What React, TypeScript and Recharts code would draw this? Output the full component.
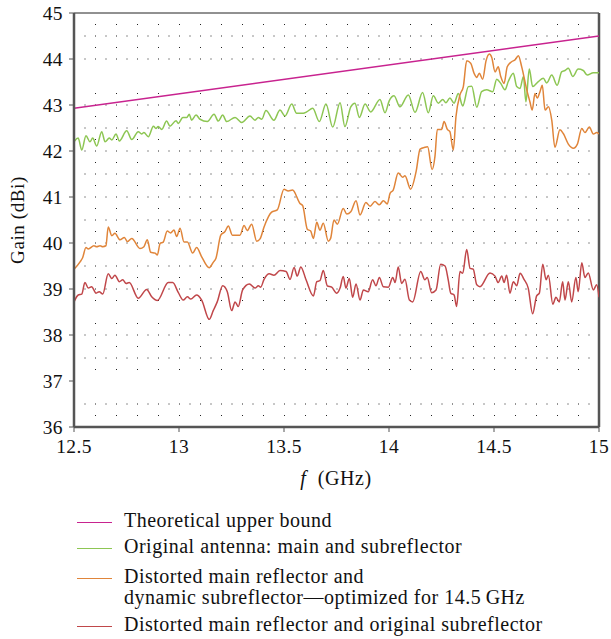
import { CartesianGrid, Line, LineChart, ReferenceLine, XAxis, YAxis } from "recharts";

// [frequency GHz, gain dBi]
const upperBound: [number, number][] = [
  [12.5, 42.93],
  [15, 44.5],
];

const originalAntenna: [number, number][] = [
  [12.5, 42.2], [12.52, 42.28], [12.537, 42.02], [12.557, 42.33], [12.576, 42.2], [12.589, 42.28],
  [12.608, 42.11], [12.632, 42.42], [12.648, 42.2], [12.668, 42.28], [12.68, 42.24], [12.7, 42.37],
  [12.716, 42.22], [12.751, 42.44], [12.775, 42.25], [12.806, 42.42], [12.822, 42.37], [12.833, 42.4],
  [12.854, 42.31], [12.878, 42.54], [12.89, 42.49], [12.901, 42.53], [12.918, 42.47], [12.941, 42.65],
  [12.957, 42.54], [12.986, 42.66], [12.997, 42.6], [13.018, 42.73], [13.037, 42.73], [13.049, 42.8],
  [13.06, 42.67], [13.081, 42.78], [13.1, 42.69], [13.135, 42.64], [13.167, 42.8], [13.187, 42.65],
  [13.208, 42.78], [13.227, 42.64], [13.267, 42.73], [13.299, 42.62], [13.338, 42.76], [13.362, 42.67],
  [13.378, 42.73], [13.394, 42.69], [13.414, 42.88], [13.452, 42.67], [13.481, 42.89], [13.505, 42.76],
  [13.537, 43.02], [13.56, 42.82], [13.592, 42.82], [13.608, 42.85], [13.637, 42.93], [13.668, 42.64],
  [13.7, 43.02], [13.732, 42.52], [13.767, 43.05], [13.79, 42.53], [13.818, 42.96], [13.838, 43.04],
  [13.859, 42.73], [13.886, 43.02], [13.913, 42.85], [13.957, 43.12], [13.981, 42.83], [14.001, 43.09],
  [14.024, 43.2], [14.052, 42.96], [14.092, 43.22], [14.124, 42.84], [14.16, 43.27], [14.187, 42.83],
  [14.211, 43.2], [14.235, 43.04], [14.256, 43.12], [14.271, 43.05], [14.29, 43.15], [14.31, 43.04],
  [14.33, 43.25], [14.351, 42.98], [14.378, 43.4], [14.394, 43.41], [14.418, 42.95], [14.441, 43.29],
  [14.465, 43.33], [14.494, 43.29], [14.513, 43.56], [14.532, 43.47], [14.552, 43.33], [14.568, 43.51],
  [14.592, 43.69], [14.608, 43.4], [14.624, 43.36], [14.64, 43.62], [14.652, 43.07], [14.668, 43.78],
  [14.684, 43.4], [14.711, 43.51], [14.735, 43.58], [14.751, 43.48], [14.775, 43.65], [14.801, 43.43],
  [14.822, 43.72], [14.838, 43.75], [14.854, 43.8], [14.875, 43.62], [14.901, 43.78], [14.925, 43.75],
  [14.944, 43.65], [14.973, 43.7], [15, 43.7],
];

const dynamicSub: [number, number][] = [
  [12.5, 39.43], [12.529, 39.59], [12.541, 39.68], [12.557, 39.9], [12.568, 39.87], [12.595, 39.94],
  [12.608, 39.92], [12.624, 39.94], [12.637, 39.92], [12.652, 39.94], [12.663, 40.35], [12.68, 40.16],
  [12.695, 40.21], [12.719, 40.07], [12.74, 40.12], [12.754, 40.03], [12.775, 40.1], [12.814, 39.88],
  [12.833, 39.92], [12.849, 40.07], [12.865, 39.8], [12.886, 39.78], [12.897, 39.74], [12.91, 39.99],
  [12.925, 40.02], [12.944, 40.26], [12.96, 40.22], [12.976, 40.28], [12.989, 40.14], [13.005, 40.32],
  [13.024, 40.02], [13.04, 40.02], [13.065, 39.78], [13.084, 39.9], [13.108, 39.7], [13.144, 39.46],
  [13.163, 39.58], [13.176, 39.67], [13.199, 40.17], [13.219, 40.25], [13.235, 40.37], [13.254, 40.17],
  [13.29, 40.17], [13.31, 40.38], [13.325, 40.27], [13.346, 40.41], [13.37, 40.04], [13.386, 40.09],
  [13.405, 40.35], [13.441, 40.67], [13.468, 40.72], [13.5, 41.17], [13.52, 41.13], [13.541, 41.15],
  [13.576, 40.86], [13.589, 40.81], [13.611, 40.3], [13.627, 40.26], [13.64, 40.1], [13.656, 40.45],
  [13.671, 40.28], [13.687, 40.43], [13.711, 40.04], [13.722, 40.1], [13.738, 40.5], [13.754, 40.41],
  [13.782, 40.75], [13.799, 40.63], [13.818, 40.68], [13.843, 40.92], [13.862, 40.61], [13.89, 40.88],
  [13.91, 40.8], [13.933, 40.9], [13.954, 40.83], [13.973, 40.92], [13.992, 40.85], [14.005, 41.08],
  [14.02, 41.15], [14.044, 41.52], [14.065, 41.43], [14.076, 41.46], [14.103, 41.17], [14.129, 41.55],
  [14.148, 42.04], [14.171, 42.08], [14.184, 42.09], [14.205, 41.6], [14.219, 41.89], [14.23, 42.47],
  [14.251, 42.47], [14.262, 42.64], [14.278, 42.47], [14.29, 42.42], [14.306, 42.02], [14.319, 42.75],
  [14.338, 43.22], [14.354, 43.4], [14.37, 43.96], [14.389, 43.91], [14.405, 43.69], [14.418, 43.6],
  [14.43, 43.69], [14.446, 43.56], [14.462, 43.96], [14.478, 44.11], [14.489, 44.04], [14.505, 43.72],
  [14.52, 43.83], [14.532, 43.62], [14.548, 43.47], [14.563, 43.83], [14.584, 43.94], [14.6, 43.98],
  [14.616, 44.07], [14.632, 43.83], [14.656, 43.33], [14.671, 43.07], [14.682, 42.89], [14.695, 43.25],
  [14.706, 43.15], [14.719, 43.29], [14.73, 43.43], [14.743, 42.89], [14.759, 42.96], [14.775, 42.67],
  [14.79, 42.08], [14.814, 42.46], [14.83, 42.38], [14.854, 42.15], [14.878, 42.06], [14.897, 42.15],
  [14.918, 42.49], [14.933, 42.4], [14.954, 42.52], [14.973, 42.37], [14.989, 42.4], [15, 42.37],
];

const originalSub: [number, number][] = [
  [12.5, 38.72], [12.52, 38.87], [12.537, 38.89], [12.552, 39.14], [12.568, 39.02], [12.584, 39.05],
  [12.605, 38.91], [12.62, 38.94], [12.637, 38.89], [12.663, 39.33], [12.68, 39.23], [12.695, 39.3],
  [12.716, 39.16], [12.732, 39.2], [12.748, 39.12], [12.763, 39.14], [12.806, 38.8], [12.846, 38.99],
  [12.87, 38.83], [12.897, 38.75], [12.949, 39.14], [12.97, 39.14], [12.997, 38.92], [13.02, 38.76],
  [13.04, 38.83], [13.056, 38.78], [13.084, 38.87], [13.108, 38.76], [13.144, 38.34], [13.163, 38.53],
  [13.182, 38.72], [13.208, 39.07], [13.23, 38.94], [13.251, 38.53], [13.267, 38.72], [13.282, 38.62],
  [13.303, 38.98], [13.335, 39.11], [13.362, 39.02], [13.378, 39.07], [13.389, 39.04], [13.405, 39.21],
  [13.43, 39.33], [13.452, 39.3], [13.481, 39.4], [13.51, 39.38], [13.529, 39.21], [13.548, 39.47],
  [13.563, 39.28], [13.58, 39.48], [13.605, 39.2], [13.64, 38.85], [13.656, 39.16], [13.671, 39.18],
  [13.687, 39.4], [13.706, 39.07], [13.727, 39.04], [13.751, 38.91], [13.767, 39.02], [13.782, 39.27],
  [13.795, 39.02], [13.811, 39.23], [13.827, 38.82], [13.843, 39.11], [13.862, 38.76], [13.878, 38.98],
  [13.901, 38.94], [13.922, 39.2], [13.938, 39.07], [13.954, 39.25], [13.973, 39.05], [13.997, 39.04],
  [14.018, 39.25], [14.029, 39.14], [14.044, 39.48], [14.06, 39.12], [14.076, 39.21], [14.097, 38.76],
  [14.113, 38.72], [14.151, 39.38], [14.171, 39.2], [14.182, 39.25], [14.203, 38.92], [14.224, 38.98],
  [14.246, 39.54], [14.267, 39.5], [14.282, 39.2], [14.294, 38.91], [14.31, 38.87], [14.322, 38.62],
  [14.338, 39.38], [14.351, 39.34], [14.37, 39.86], [14.386, 39.45], [14.401, 39.43], [14.418, 39.09],
  [14.433, 39.05], [14.481, 39.35], [14.505, 39.28], [14.52, 39.14], [14.537, 39.28], [14.548, 39.14],
  [14.56, 39.3], [14.576, 38.91], [14.592, 39.16], [14.608, 39.07], [14.624, 39.34], [14.643, 39.21],
  [14.663, 39.02], [14.684, 38.46], [14.703, 38.85], [14.716, 38.91], [14.732, 39.54], [14.748, 39.2],
  [14.759, 39.3], [14.78, 38.67], [14.795, 38.82], [14.811, 38.72], [14.827, 39.16], [14.838, 38.76],
  [14.854, 39.16], [14.87, 38.72], [14.89, 39.25], [14.901, 38.94], [14.918, 39.57], [14.933, 39.25],
  [14.949, 39.35], [14.973, 38.98], [14.989, 39.09], [15, 38.82],
];

const freqTicks = [12.5, 13, 13.5, 14, 14.5, 15];
const gainTicks = [36, 37, 38, 39, 40, 41, 42, 43, 44, 45];
const halfRows = [36.5, 37, 37.5, 38, 38.5, 39, 39.5, 40, 40.5, 41, 41.5, 42, 42.5, 43, 43.5, 44, 44.5];
const quarterRows = [36.25, 36.75, 37.25, 37.75, 38.25, 38.75, 39.25, 39.75, 40.25, 40.75, 41.25, 41.75, 42.25, 42.75, 43.25, 43.75, 44.25, 44.75];

const series = [
  { name: "Theoretical upper bound", color: "#c8238f", points: upperBound },
  { name: "Original antenna: main and subreflector", color: "#8dc653", points: originalAntenna },
  { name: "Distorted main reflector and\ndynamic subreflector\u2014optimized for 14.5\u2009GHz", color: "#e0853a", points: dynamicSub },
  { name: "Distorted main reflector and original subreflector", color: "#c0474a", points: originalSub },
];

const toRows = (pts: [number, number][]) => pts.map(([f, gain]) => ({ f, gain }));

const FONT = '"Liberation Serif", "DejaVu Serif", serif';
const tickStyle = { fill: "#111", fontSize: 19.5, fontFamily: FONT, letterSpacing: 0.4 };
const legendTops = [522, 548, 578, 626];

export default function App() {
  return (
    <div style={{ position: "relative", width: 611, height: 639, fontFamily: FONT, color: "#111", background: "#fff" }}>
      <style>{"body{margin:0}"}</style>
      <LineChart width={611} height={500} margin={{ top: 13, right: 12, left: 44, bottom: 43 }}>
        <CartesianGrid vertical={false} horizontalValues={halfRows} stroke="#222" strokeDasharray="1 9.5" />
        <CartesianGrid vertical={false} horizontalValues={quarterRows} stroke="#222" strokeDasharray="1 20" />
        <XAxis
          type="number"
          dataKey="f"
          domain={[12.5, 15]}
          ticks={freqTicks}
          allowDataOverflow
          height={30}
          tickSize={5}
          tickMargin={7}
          tick={tickStyle}
          axisLine={{ stroke: "#555", strokeWidth: 2.5 }}
          tickLine={{ stroke: "#555" }}
        />
        <YAxis
          type="number"
          domain={[36, 45]}
          ticks={gainTicks}
          width={30}
          tickSize={5}
          tickMargin={6}
          tick={tickStyle}
          axisLine={{ stroke: "#555", strokeWidth: 2.5 }}
          tickLine={{ stroke: "#555" }}
        />
        <ReferenceLine y={45} stroke="#222" strokeWidth={1} />
        <ReferenceLine x={15} stroke="#555" strokeWidth={2.5} />
        {series.map((s) => (
          <Line
            key={s.name}
            data={toRows(s.points)}
            dataKey="gain"
            type="monotone"
            stroke={s.color}
            strokeWidth={1.5}
            dot={false}
            isAnimationActive={false}
          />
        ))}
      </LineChart>

      <div
        style={{
          position: "absolute",
          left: 18,
          top: 220,
          transform: "translate(-50%, -50%) rotate(-90deg)",
          fontSize: 19,
          letterSpacing: 0.6,
          whiteSpace: "nowrap",
        }}
      >
        Gain (dBi)
      </div>
      <div
        style={{
          position: "absolute",
          left: 336,
          top: 478,
          transform: "translate(-50%, -50%)",
          fontSize: 20,
          letterSpacing: 0.6,
          whiteSpace: "nowrap",
        }}
      >
        <i>f</i>&nbsp; (GHz)
      </div>

      {series.map((s, i) => (
        <div key={s.name} style={{ position: "absolute", left: 77, top: legendTops[i] - 12, display: "flex", alignItems: "flex-start" }}>
          <div style={{ width: 35, height: 1.5, background: s.color, marginTop: 11.5 }} />
          <div style={{ marginLeft: 12, fontSize: 20, letterSpacing: 0.5, lineHeight: "21px", whiteSpace: "pre" }}>{s.name}</div>
        </div>
      ))}
    </div>
  );
}
